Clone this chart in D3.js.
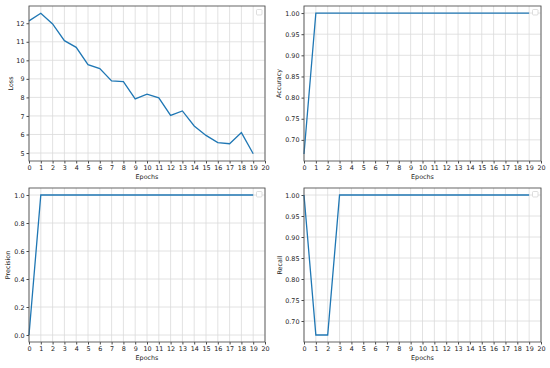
<!DOCTYPE html>
<html>
<head>
<meta charset="utf-8">
<script src="https://cdn.jsdelivr.net/npm/d3@7"></script>
<style>
  body { margin: 0; background: #fff; }
  text { font-family: "DejaVu Sans", sans-serif; fill: #222; }
</style>
</head>
<body>
<script>
// Training metrics per epoch
const epochs = d3.range(0, 20);
const lossValues = [12.13, 12.54, 11.96, 11.06, 10.70, 9.77, 9.55, 8.89, 8.85, 7.92,
                    8.18, 7.98, 7.03, 7.27, 6.46, 5.95, 5.56, 5.50, 6.10, 4.96];
const accuracyValues = [0.6667, 1, 1, 1, 1, 1, 1, 1, 1, 1, 1, 1, 1, 1, 1, 1, 1, 1, 1, 1];
const precisionValues = [0, 1, 1, 1, 1, 1, 1, 1, 1, 1, 1, 1, 1, 1, 1, 1, 1, 1, 1, 1];
const recallValues = [1, 0.6667, 0.6667, 1, 1, 1, 1, 1, 1, 1, 1, 1, 1, 1, 1, 1, 1, 1, 1, 1];

const xTicks = d3.range(0, 21);
const lossTicks = [5, 6, 7, 8, 9, 10, 11, 12];
const accTicks = [0.70, 0.75, 0.80, 0.85, 0.90, 0.95, 1.00];
const precTicks = [0.0, 0.2, 0.4, 0.6, 0.8, 1.0];

const width = 550, height = 368;

const svg = d3.select('body')
  .append('svg')
  .attr('width', width)
  .attr('height', height);

// panel boxes
const panels = [
  { label: 'Loss', values: lossValues, domain: [4.57, 12.93], ticks: lossTicks, fmt: d3.format('d'),
    x0: 29, x1: 265, y0: 6, y1: 161, labelX: 11 },
  { label: 'Accuracy', values: accuracyValues, domain: [0.65, 1.0167], ticks: accTicks, fmt: d3.format('.2f'),
    x0: 304, x1: 541, y0: 6, y1: 161, labelX: 279 },
  { label: 'Precision', values: precisionValues, domain: [-0.05, 1.05], ticks: precTicks, fmt: d3.format('.1f'),
    x0: 29, x1: 265, y0: 188, y1: 342, labelX: 8 },
  { label: 'Recall', values: recallValues, domain: [0.65, 1.0167], ticks: accTicks, fmt: d3.format('.2f'),
    x0: 304, x1: 541, y0: 188, y1: 342, labelX: 280 }
];

panels.forEach(p => {
  const x = d3.scaleLinear().domain([0, 20]).range([p.x0, p.x1]);
  const y = d3.scaleLinear().domain(p.domain).range([p.y1, p.y0]);
  const g = svg.append('g');

  // grid
  g.append('g').selectAll('line.vx').data(xTicks).join('line')
    .attr('x1', d => x(d)).attr('x2', d => x(d))
    .attr('y1', p.y0).attr('y2', p.y1)
    .attr('stroke', '#dadada').attr('stroke-width', 0.8);
  g.append('g').selectAll('line.hy').data(p.ticks).join('line')
    .attr('x1', p.x0).attr('x2', p.x1)
    .attr('y1', d => y(d)).attr('y2', d => y(d))
    .attr('stroke', '#dadada').attr('stroke-width', 0.8);

  // axes
  const xAxis = g.append('g')
    .attr('transform', `translate(0,${p.y1})`)
    .call(d3.axisBottom(x).tickValues(xTicks).tickFormat(d3.format('d')).tickSize(2.5).tickPadding(1.5));
  const yAxis = g.append('g')
    .attr('transform', `translate(${p.x0},0)`)
    .call(d3.axisLeft(y).tickValues(p.ticks).tickFormat(p.fmt).tickSize(2.5).tickPadding(2));
  [xAxis, yAxis].forEach(a => {
    a.select('.domain').remove();
    a.selectAll('line').attr('stroke', '#333').attr('stroke-width', 0.9);
    a.selectAll('text').attr('font-size', 6.4).attr('fill', '#1a1a1a')
      .attr('font-family', '"DejaVu Sans", sans-serif');
  });

  // line
  g.append('path')
    .datum(p.values)
    .attr('fill', 'none')
    .attr('stroke', '#1f77b4')
    .attr('stroke-width', 1.3)
    .attr('d', d3.line().x((d, i) => x(epochs[i])).y(d => y(d)));

  // frame
  g.append('rect')
    .attr('x', p.x0).attr('y', p.y0)
    .attr('width', p.x1 - p.x0).attr('height', p.y1 - p.y0)
    .attr('fill', 'none').attr('stroke', '#555').attr('stroke-width', 0.9);

  // empty legend box
  g.append('rect')
    .attr('x', p.x1 - 8.5).attr('y', p.y0 + 3.5)
    .attr('width', 5.5).attr('height', 5.5)
    .attr('rx', 1)
    .attr('fill', '#fff').attr('stroke', '#d0d0d0').attr('stroke-width', 0.7);

  // labels
  g.append('text')
    .attr('x', (p.x0 + p.x1) / 2).attr('y', p.y1 + 18)
    .attr('text-anchor', 'middle').attr('font-size', 6.4)
    .text('Epochs');
  g.append('text')
    .attr('transform', `translate(${p.labelX},${(p.y0 + p.y1) / 2}) rotate(-90)`)
    .attr('text-anchor', 'middle').attr('dy', '0.35em').attr('font-size', 6.4)
    .text(p.label);
});
</script>
</body>
</html>
